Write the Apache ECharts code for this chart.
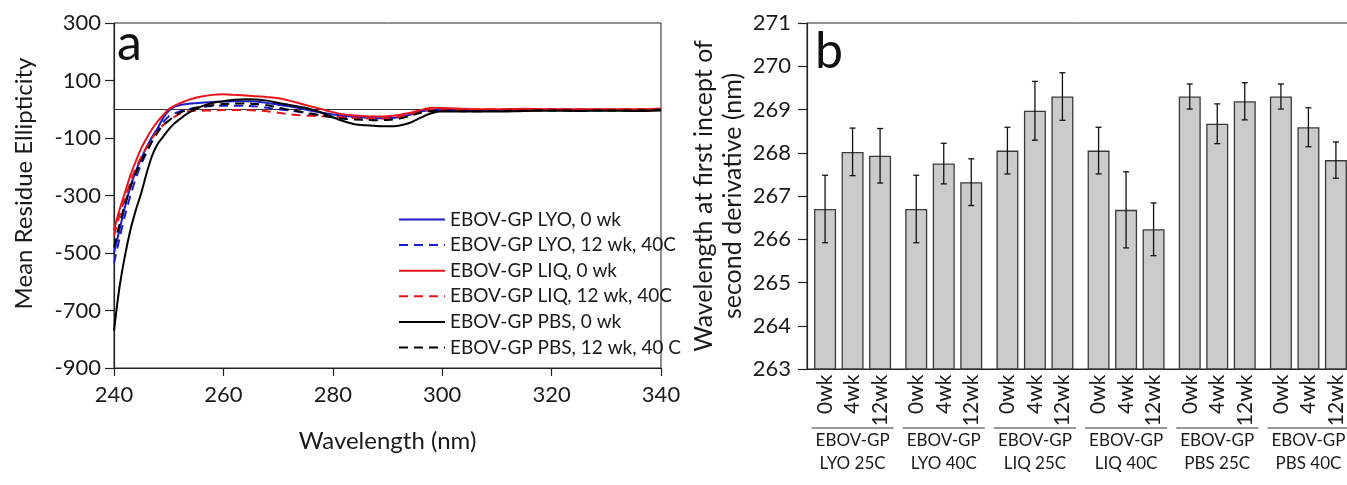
<!DOCTYPE html>
<html>
  <head>
    <meta charset="utf-8">
    <title>EBOV-GP CD</title>
    <script src="https://cdn.jsdelivr.net/npm/echarts@6/dist/echarts.min.js"></script>
    <style>
      body{ margin:0; background:#fff; }
      #main{ width:1347px; height:485px; }
    </style>
  </head>
  <body>
    <div id="main"></div>
  </body>
  <script>
    // panel a: CD spectra
    var wavelength = [240,241,242,243,244,245,246,247,248,249,250,251,252,253,254,
      256,258,260,262,264,266,268,270,272,274,276,278,280,282,284,286,288,290,292,294,296,298,300,
      305,310,315,320,325,330,335,340];
    var lyo0 = [-500,-420,-340,-270,-215,-170,-130,-95,-65,-30,-5,8,14,17,20,
      23,25,27,28,28,27,22,16,10,3,-5,-12,-18,-22,-26,-29,-31,-31,-28,-20,-8,-3,-2,
      -3,-3,-2,-1,-2,-2,-4,-2];
    var lyo12 = [-535,-450,-370,-300,-240,-190,-150,-110,-75,-45,-25,-14,-8,-3,2,
      8,11,12,12,12,10,5,0,-4,-10,-18,-22,-25,-27,-29,-30,-31,-31,-27,-20,-10,-4,-3,
      -4,-3,-2,-1,-2,-3,-2,-1];
    var liq0 = [-420,-350,-290,-230,-180,-135,-100,-68,-42,-20,0,12,20,28,35,
      44,50,52,50,48,45,42,38,30,20,10,0,-10,-18,-22,-24,-25,-24,-20,-13,-3,5,4,
      1,0,2,0,0,0,0,3];
    var liq12 = [-440,-370,-310,-255,-205,-165,-130,-100,-75,-55,-40,-27,-16,-9,-6,
      -5,-4,-3,-3,-3,-4,-7,-12,-17,-21,-23,-24,-25,-28,-31,-32,-32,-31,-27,-20,-8,-2,-2,
      -1,0,0,-1,-1,-1,0,0];
    var pbs0 = [-770,-620,-510,-420,-350,-290,-220,-160,-120,-95,-70,-50,-35,-20,-8,
      10,22,28,33,35,34,30,22,15,8,0,-12,-28,-42,-52,-56,-58,-59,-57,-48,-30,-14,-7,
      -8,-8,-6,-5,-6,-5,-6,-4];
    var pbs12 = [-480,-400,-330,-270,-220,-180,-145,-110,-80,-55,-40,-25,-12,-5,0,
      8,14,18,20,20,18,14,6,-2,-8,-15,-22,-28,-33,-36,-37,-38,-37,-33,-24,-12,-6,-5,
      -7,-6,-5,-4,-5,-4,-4,-2];
    var curveNames = ['EBOV-GP LYO, 0 wk', 'EBOV-GP LYO, 12 wk, 40C', 'EBOV-GP LIQ, 0 wk',
      'EBOV-GP LIQ, 12 wk, 40C', 'EBOV-GP PBS, 0 wk', 'EBOV-GP PBS, 12 wk, 40 C'];

    // panel b: second derivative intercept
    var groupNames = ['LYO 25C', 'LYO 40C', 'LIQ 25C', 'LIQ 40C', 'PBS 25C', 'PBS 40C'];
    var timepoints = ['0wk', '4wk', '12wk'];
    var mean0wk = [266.70, 266.70, 268.05, 268.05, 269.30, 269.30];
    var mean4wk = [268.02, 267.75, 268.97, 266.68, 268.67, 268.59];
    var mean12wk = [267.93, 267.32, 269.30, 266.23, 269.19, 267.83];
    var err0wk = [0.78, 0.78, 0.54, 0.54, 0.29, 0.29];
    var err4wk = [0.55, 0.47, 0.68, 0.88, 0.46, 0.45];
    var err12wk = [0.63, 0.54, 0.55, 0.61, 0.43, 0.42];

    var font = 'Lato';
    var ink = '#1a1a1a';

    var curveStyle = [
      { color: '#1c1cc8', type: 'solid' },
      { color: '#1c1cc8', type: [9, 6] },
      { color: '#e8141b', type: 'solid' },
      { color: '#e8141b', type: [9, 6] },
      { color: '#000000', type: 'solid' },
      { color: '#000000', type: [9, 6] }
    ];
    var curveData = [lyo0, lyo12, liq0, liq12, pbs0, pbs12];

    var series = [];
    curveData.forEach(function (vals, i) {
      var s = {
        name: curveNames[i],
        type: 'line',
        xAxisIndex: 0,
        yAxisIndex: 0,
        symbol: 'none',
        smooth: 0.3,
        color: curveStyle[i].color,
        lineStyle: { width: 2, color: curveStyle[i].color, type: curveStyle[i].type },
        data: wavelength.map(function (w, j) { return [w, vals[j]]; }),
        z: 3
      };
      if (i == 0) {
        s.markLine = {
          silent: true,
          symbol: 'none',
          label: { show: false },
          lineStyle: { color: '#333', width: 1, type: 'solid' },
          data: [{ yAxis: 0 }],
          z: 1
        };
      }
      series.push(s);
    });

    // bars, one series per time point
    var means = [mean0wk, mean4wk, mean12wk];
    var errs = [err0wk, err4wk, err12wk];
    means.forEach(function (vals, k) {
      series.push({
        name: timepoints[k],
        type: 'bar',
        xAxisIndex: 1,
        yAxisIndex: 1,
        barWidth: 22,
        barGap: '25%',
        itemStyle: { color: '#cbcbcb', borderColor: '#3a3a3a', borderWidth: 1.3 },
        label: {
          show: true,
          position: 'bottom',
          distance: 5,
          rotate: 90,
          align: 'right',
          verticalAlign: 'middle',
          formatter: '{a}',
          fontFamily: font,
          fontSize: 21,
          color: ink
        },
        data: vals
      });
    });

    // error bars
    var errData = [];
    means.forEach(function (vals, k) {
      vals.forEach(function (v, g) {
        errData.push([g, k, v - errs[k][g], v + errs[k][g]]);
      });
    });
    series.push({
      type: 'custom',
      xAxisIndex: 1,
      yAxisIndex: 1,
      silent: true,
      encode: { x: 0, y: [2, 3] },
      data: errData,
      z: 5,
      renderItem: function (params, api) {
        var k = api.value(1);
        var lo = api.coord([api.value(0), api.value(2)]);
        var hi = api.coord([api.value(0), api.value(3)]);
        var x = lo[0] + (k - 1) * 27.5;
        var st = { stroke: '#111', lineWidth: 1.3 };
        return {
          type: 'group',
          children: [
            { type: 'line', shape: { x1: x, y1: lo[1], x2: x, y2: hi[1] }, style: st },
            { type: 'line', shape: { x1: x - 3, y1: lo[1], x2: x + 3, y2: lo[1] }, style: st },
            { type: 'line', shape: { x1: x - 3, y1: hi[1], x2: x + 3, y2: hi[1] }, style: st }
          ]
        };
      }
    });

    var myChart = echarts.init(document.getElementById('main'));
    option = {
      animation: false,
      backgroundColor: '#fff',
      textStyle: { fontFamily: font, color: ink },
      grid: [
        { left: 114, right: 686, top: 23, bottom: 117, show: true, borderColor: '#222', borderWidth: 1, outerBoundsMode: 'none' },
        { left: 807, right: -7, top: 23, bottom: 116, show: true, borderColor: '#222', borderWidth: 1, outerBoundsMode: 'none' }
      ],
      legend: {
        data: curveNames,
        orient: 'vertical',
        left: 393,
        top: 205,
        itemWidth: 46,
        itemHeight: 14,
        itemGap: 6.6,
        selectedMode: false,
        itemStyle: { opacity: 0 },
        textStyle: { fontFamily: font, fontSize: 19, color: ink }
      },
      xAxis: [
        {
          type: 'value',
          gridIndex: 0,
          min: 240,
          max: 340,
          interval: 20,
          name: 'Wavelength (nm)',
          nameLocation: 'middle',
          nameGap: 61,
          nameTextStyle: { fontFamily: font, fontSize: 24, color: ink },
          splitLine: { show: false },
          axisLine: { onZero: false, lineStyle: { color: '#222', width: 1.2 } },
          axisTick: { length: 8, lineStyle: { color: '#222', width: 1.2 } },
          axisLabel: { margin: 16, fontFamily: font, fontSize: 22, color: ink }
        },
        {
          type: 'category',
          gridIndex: 1,
          data: groupNames,
          axisLine: { lineStyle: { color: '#222', width: 1.2 } },
          axisTick: { show: false },
          axisLabel: {
            interval: 0,
            margin: 58,
            formatter: function (v) { return '{l| }\n{t|EBOV-GP}\n{t|' + v + '}'; },
            rich: {
              l: { width: 82, height: 1, lineHeight: 2, backgroundColor: '#333' },
              t: { fontFamily: font, fontSize: 17, lineHeight: 23, color: ink }
            }
          }
        }
      ],
      yAxis: [
        {
          type: 'value',
          gridIndex: 0,
          min: -900,
          max: 300,
          interval: 200,
          name: 'Mean Residue Ellipticity',
          nameLocation: 'middle',
          nameGap: 78,
          nameTextStyle: { fontFamily: font, fontSize: 24, color: ink, padding: [0, 0, 0, 24] },
          splitLine: { show: false },
          axisLine: { show: true, lineStyle: { color: '#222', width: 1.2 } },
          axisTick: { show: true, length: 9, lineStyle: { color: '#222', width: 1.2 } },
          axisLabel: { margin: 13, fontFamily: font, fontSize: 22, color: ink }
        },
        {
          type: 'value',
          gridIndex: 1,
          min: 263,
          max: 271,
          interval: 1,
          name: 'Wavelength at first incept of\nsecond derivative (nm)',
          nameLocation: 'middle',
          nameGap: 60,
          nameTextStyle: { fontFamily: font, fontSize: 25, lineHeight: 29, color: ink },
          splitLine: { show: false },
          axisLine: { show: true, lineStyle: { color: '#222', width: 1.2 } },
          axisTick: { show: true, length: 9, lineStyle: { color: '#222', width: 1.2 } },
          axisLabel: { margin: 16, fontFamily: font, fontSize: 22, color: ink }
        }
      ],
      graphic: [
        { type: 'text', left: 117, top: 19, style: { text: 'a', fontFamily: font, fontSize: 50, fill: '#111' } },
        { type: 'text', left: 815, top: 27, style: { text: 'b', fontFamily: font, fontSize: 50, fill: '#111' } }
      ],
      series: series
    };

    myChart.setOption(option);
  </script>
</html>
